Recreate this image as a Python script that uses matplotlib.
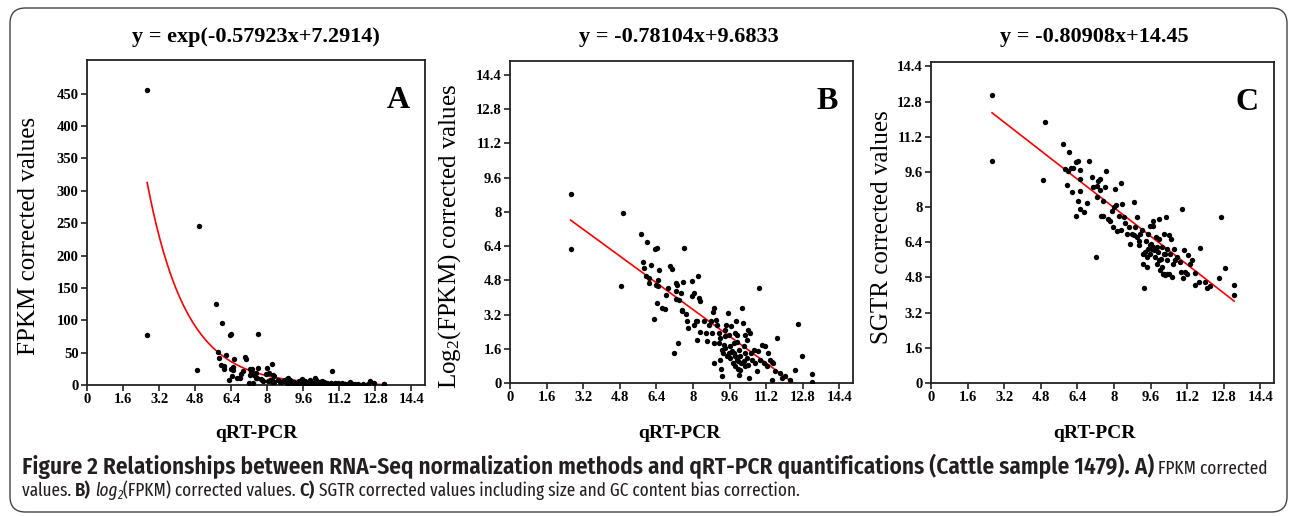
import numpy as np
import matplotlib
matplotlib.use("Agg")
import matplotlib.pyplot as plt
from matplotlib.patches import FancyBboxPatch

# ---------------- data ----------------
qpcr_b = [2.65, 2.65, 4.96, 4.86, 5.74, 6.01, 6.35, 6.41, 5.80, 5.84, 6.16, 5.94, 6.09, 6.06,
          6.52, 6.46, 6.38, 6.49, 6.30, 6.45, 6.64, 6.77, 6.84, 6.91, 6.99, 7.07, 7.17, 7.25,
          7.28, 7.32, 7.25, 7.36, 7.49, 7.39, 7.61, 7.57, 7.51, 7.54, 7.71, 7.75, 7.80, 7.97,
          7.94, 8.06, 8.12, 8.04, 8.23, 8.19, 8.26, 8.30, 8.19, 8.29, 8.48, 8.55, 8.62, 8.70,
          8.77, 8.88, 8.91, 8.84, 8.91, 8.94, 9.01, 9.06, 9.20, 9.22, 9.28, 9.13, 9.20, 9.25,
          9.30, 9.35, 9.39, 9.42, 9.45, 9.54, 9.57, 9.59, 9.64, 9.68, 9.71, 9.74, 9.78, 9.83,
          9.86, 9.88, 9.93, 9.93, 9.97, 10.00, 10.03, 10.07, 10.12, 10.14, 10.17, 10.22, 10.26,
          10.29, 10.36, 10.41, 10.43, 10.46, 10.51, 10.55, 10.58, 10.65, 10.72, 10.80, 10.84,
          10.87, 10.94, 11.01, 11.09, 11.16, 11.23, 11.30, 11.38, 11.45, 11.52, 11.67, 11.59,
          11.45, 11.81, 12.03, 11.88, 12.46, 12.58, 12.75, 13.19, 13.19, 12.25,
          9.64, 9.78, 9.86, 9.97, 10.07, 10.22, 10.36, 9.42, 9.49, 9.13, 9.93, 10.29]
log2_fpkm = [8.83, 6.26, 7.94, 4.55, 6.96, 6.57, 6.26, 6.31, 5.67, 5.37, 5.51, 4.98, 4.89, 4.67,
             5.30, 4.83, 4.60, 4.52, 2.99, 3.74, 3.50, 3.46, 4.13, 4.44, 5.45, 5.33, 1.40, 4.67,
             4.28, 4.60, 3.94, 1.87, 4.21, 3.89, 6.31, 4.70, 3.43, 3.35, 3.22, 2.88, 2.57, 4.75,
             4.05, 4.21, 2.88, 2.73, 5.02, 2.88, 3.97, 3.82, 2.02, 2.37, 2.88, 2.34, 1.95, 2.73,
             2.88, 3.30, 3.50, 2.34, 1.87, 0.93, 2.96, 2.73, 1.09, 0.65, 0.34, 2.34, 2.10, 1.56,
             1.40, 1.79, 2.49, 2.18, 2.73, 3.27, 2.26, 1.40, 1.17, 2.65, 1.48, 0.93, 1.40, 0.78,
             2.34, 2.88, 1.90, 1.09, 0.65, 0.39, 1.56, 1.25, 0.93, 3.50, 2.80, 1.71, 1.40,
             0.78, 2.02, 2.49, 0.86, 0.23, 2.34, 1.40, 1.09, 1.56, 0.93, 0.55, 1.48,
             4.44, 1.09, 1.79, 0.93, 1.71, 0.78, 1.40, 1.09, 0.97, 0.93, 2.10, 0.55,
             0.16, 0.47, 0.31, 0.23, 0.62, 2.77, 1.28, 0.44, 0.03, 0.16,
             1.71, 1.87, 1.25, 1.01, 0.62, 1.01, 1.17, 1.64, 1.25, 1.87, 2.26, 2.26]
# Panel A shows the same values on the linear FPKM scale
fpkm = 2.0 ** np.array(log2_fpkm)

qpcr_c = [2.67, 2.67, 5.00, 4.89, 5.79, 6.04, 5.87, 5.94, 6.01, 6.11, 6.23, 6.16, 6.35, 6.45,
          6.52, 6.52, 6.52, 6.45, 6.35, 6.52, 6.67, 6.81, 6.90, 7.06, 7.10, 7.21, 7.28, 7.32,
          7.37, 7.40, 7.25, 7.43, 7.51, 7.62, 7.66, 7.54, 7.76, 7.84, 7.91, 8.01, 8.10, 8.06,
          8.29, 8.20, 7.98, 8.13, 8.29, 8.37, 8.42, 8.50, 8.56, 8.64, 8.71, 8.78, 8.86, 8.88,
          8.93, 9.00, 9.03, 9.08, 9.15, 9.22, 9.26, 9.29, 9.32, 9.37, 9.41, 9.44, 9.47, 9.51,
          9.56, 9.59, 9.61, 9.66, 9.70, 9.73, 9.76, 9.80, 9.85, 9.88, 9.91, 9.95, 9.99, 10.02,
          10.05, 10.10, 10.14, 10.17, 10.20, 10.24, 10.29, 10.32, 10.34, 10.39, 10.43, 10.46,
          10.49, 10.53, 10.58, 10.64, 10.68, 10.75, 10.87, 10.93, 10.97, 11.02, 11.07, 11.12,
          11.19, 11.26, 11.34, 11.41, 11.56, 11.53, 11.77, 11.74, 11.99, 12.07, 12.21, 12.58,
          12.69, 12.87, 13.26, 13.23,
          9.59, 9.73, 9.95, 10.10, 10.17, 10.32, 9.44, 9.88, 10.24, 9.08]
sgtr = [13.09, 10.10, 11.88, 9.23, 10.89, 10.52, 9.73, 9.02, 9.65, 9.77, 9.80, 8.70, 10.07, 10.10,
        9.68, 9.27, 8.72, 8.26, 7.61, 7.92, 7.80, 8.17, 10.10, 9.39, 8.90, 5.73, 8.97, 9.20,
        8.78, 9.27, 8.47, 7.61, 8.29, 8.90, 9.65, 7.61, 7.46, 7.39, 7.84, 7.99, 8.11, 8.82,
        9.08, 7.61, 7.09, 6.91, 6.94, 8.14, 7.54, 7.27, 6.79, 7.09, 6.33, 6.79, 6.71, 8.22,
        7.09, 7.54, 6.63, 6.26, 6.79, 6.94, 5.88, 5.43, 4.34, 5.96, 6.48, 5.28, 6.11, 6.79,
        7.12, 5.88, 6.33, 6.11, 7.16, 7.39, 6.03, 5.73, 6.63, 5.43, 5.96, 6.56, 7.46, 5.16,
        5.65, 6.18, 4.98, 5.88, 6.79, 4.90, 7.54, 5.58, 6.11, 4.98, 6.71, 5.88,
        6.56, 4.83, 5.43, 6.11, 5.58, 5.73, 5.50, 5.05, 7.92, 4.79, 6.03, 5.05,
        4.98, 5.81, 5.43, 5.58, 5.01, 4.45, 6.15, 4.60, 4.60, 4.30, 4.40, 4.79,
        7.57, 5.25, 4.45, 4.00,
        6.26, 6.18, 5.58, 5.28, 4.98, 4.95, 5.73, 6.18, 5.88, 6.48]

x_ticks = [0, 1.6, 3.2, 4.8, 6.4, 8, 9.6, 11.2, 12.8, 14.4]
x_tick_labels = ["0", "1.6", "3.2", "4.8", "6.4", "8", "9.6", "11.2", "12.8", "14.4"]
a_ticks = [0, 50, 100, 150, 200, 250, 300, 350, 400, 450]
a_tick_labels = [str(v) for v in a_ticks]

titles = ["y = exp(-0.57923x+7.2914)", "y = -0.78104x+9.6833", "y = -0.80908x+14.45"]
ylabels = ["FPKM corrected values", r"Log$_2$(FPKM) corrected values", "SGTR corrected values"]
letters = ["A", "B", "C"]
xlabel = "qRT-PCR"

# fitted models given in the panel titles
fit_a = (-0.57923, 7.2914)
fit_b = (-0.78104, 9.6833)
fit_c = (-0.80908, 14.45)

# ---------------- styling ----------------
SERIF = ["Liberation Serif", "DejaVu Serif"]
plt.rcParams["mathtext.fontset"] = "custom"
plt.rcParams["mathtext.rm"] = "Liberation Serif"
plt.rcParams["mathtext.it"] = "Liberation Serif:italic"
plt.rcParams["mathtext.bf"] = "Liberation Serif:bold"

W, H = 1290, 516
fig = plt.figure(figsize=(W / 100, H / 100), dpi=100)


def rect(left, top, right, bottom):
    return [left / W, 1 - bottom / H, (right - left) / W, (bottom - top) / H]


ax_a = fig.add_axes(rect(87, 60, 425, 385))
ax_b = fig.add_axes(rect(510, 61, 853, 383))
ax_c = fig.add_axes(rect(931, 62, 1274, 383))
axes = [ax_a, ax_b, ax_c]

xs = np.linspace(2.67, 13.26, 300)
ax_a.scatter(qpcr_b, fpkm, s=15, c="black", linewidths=0, zorder=3)
ax_a.plot(xs, np.exp(fit_a[0] * xs + fit_a[1]), color="#ff0000", lw=1.2, zorder=2)

ax_b.scatter(qpcr_b, log2_fpkm, s=15, c="black", linewidths=0, zorder=3)
xb = np.linspace(2.65, -fit_b[1] / fit_b[0], 100)
ax_b.plot(xb, fit_b[0] * xb + fit_b[1], color="#ff0000", lw=1.2, zorder=2)

ax_c.scatter(qpcr_c, sgtr, s=15, c="black", linewidths=0, zorder=3)
xc = np.linspace(2.67, 13.26, 100)
ax_c.plot(xc, fit_c[0] * xc + fit_c[1], color="#ff0000", lw=1.2, zorder=2)

ax_a.set_ylim(0, 502)
ax_a.set_yticks(a_ticks)
ax_a.set_yticklabels(a_tick_labels)
ax_b.set_ylim(0, 15.05)
ax_c.set_ylim(0, 14.6)
for ax in (ax_b, ax_c):
    ax.set_yticks(x_ticks)
    ax.set_yticklabels(x_tick_labels)

ylab_pos = [(-0.139, 0.46), (-0.137, 0.456), (-0.111, 0.486)]
title_x = [256, 679, 1094]
for i, ax in enumerate(axes):
    ax.set_xlim(0, 15.0)
    ax.set_xticks(x_ticks)
    ax.set_xticklabels(x_tick_labels)
    for sp in ax.spines.values():
        sp.set_linewidth(1.3)
        sp.set_color("#222222")
    ax.tick_params(direction="out", length=4, width=1.2, pad=2, color="#222222")
    for lab in ax.get_xticklabels() + ax.get_yticklabels():
        lab.set_fontfamily(SERIF)
        lab.set_fontweight("bold")
        lab.set_fontsize(10.5)
    ax.set_ylabel(ylabels[i], family=SERIF, fontsize=18)
    ax.yaxis.set_label_coords(*ylab_pos[i])
    ax.text(0.955, 0.875, letters[i], transform=ax.transAxes, ha="right", va="center",
            family=SERIF, fontweight="bold", fontsize=23)
    fig.text(title_x[i] / W, 1 - 37 / H, titles[i], ha="center", va="center",
             family=SERIF, fontweight="bold", fontsize=16)
    fig.text(title_x[i] / W, 1 - 433 / H, xlabel, ha="center", va="center",
             family=SERIF, fontweight="bold", fontsize=14)

# rounded frame around the figure
frame = FancyBboxPatch((10 / W, 4 / H), 1277 / W, 504 / H,
                       boxstyle="round,pad=0,rounding_size=0.012",
                       transform=fig.transFigure, fill=False, ec="#444444", lw=1.0,
                       mutation_aspect=W / H)
fig.patches.append(frame)

# ---------------- caption ----------------
CAP_B = ["Fira Sans Condensed", "PT Sans Narrow", "DejaVu Sans"]
CAP_R = ["Fira Sans Extra Condensed", "PT Sans Narrow", "DejaVu Sans"]
renderer = fig.canvas.get_renderer()
cap_col = "#231f20"

line1_bold = ("Figure 2 Relationships between RNA-Seq normalization methods and qRT-PCR "
              "quantifications (Cattle sample 1479). A)")
line2_plain = ("values. B) log2(FPKM) corrected values. C) SGTR corrected values including "
               "size and GC content bias correction.")


def fit_size(text, target_px, **kw):
    t = fig.text(0, 0, text, fontsize=10, **kw)
    w = t.get_window_extent(renderer=renderer).width
    t.remove()
    return 10 * target_px / w


size_b = fit_size(line1_bold, 1160 - 22, family=CAP_B, fontweight="semibold")
size_r = fit_size(line2_plain, 748 - 22, family=CAP_R, fontweight="normal")
size_r = min(max(size_r, 0.8 * size_b), 1.05 * size_b)

bold = dict(family=CAP_B, fontsize=size_b, fontweight="semibold", color=cap_col)
bold2 = dict(family=CAP_B, fontsize=size_r, fontweight="semibold", color=cap_col)
reg = dict(family=CAP_R, fontsize=size_r, fontweight="normal", color=cap_col)
ital = dict(family=CAP_R, fontsize=size_r, fontweight="normal", style="italic", color=cap_col)
sub = dict(family=CAP_R, fontsize=size_r * 0.7, fontweight="normal", style="italic",
           color=cap_col, dy=3)


def rich_line(parts, x0, y0):
    x = x0 / W
    for txt, kw in parts:
        dy = kw.pop("dy", 0)
        t = fig.text(x, 1 - (y0 + dy) / H, txt, ha="left", va="baseline", **kw)
        bb = t.get_window_extent(renderer=renderer)
        x = bb.x1 / W


rich_line([(line1_bold, dict(bold)), (" FPKM corrected", dict(reg))], 22, 474)
rich_line([("values. ", dict(reg)), ("B)", dict(bold2)), (" ", dict(reg)),
           ("log", dict(ital)), ("2", dict(sub)), ("(FPKM) corrected values. ", dict(reg)),
           ("C)", dict(bold2)),
           (" SGTR corrected values including size and GC content bias correction.", dict(reg))],
          22, 496)

fig.savefig("out.png", dpi=100)
